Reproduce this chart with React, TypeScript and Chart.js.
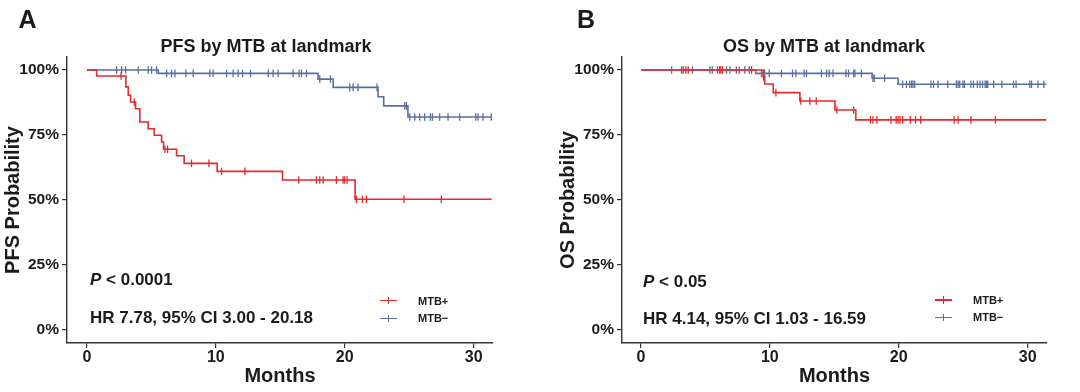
import React, { useEffect, useRef } from "react";
import { Chart, registerables } from "chart.js";

Chart.register(...registerables);

const FONT = "'Liberation Sans', Arial, Helvetica, sans-serif";
const RED = "#E8292B";
const BLUE = "#5A6F9C";
const INK = "#1b1b1b";
const AXIS = "#333333";

const yTickValues = [0, 0.25, 0.5, 0.75, 1];
const xTickValues = [0, 10, 20, 30];
const groupLabels = ["MTB+", "MTB\u2212"];

// ---------- Panel A: PFS ----------
const pfsPosTimes = [0, 0.75, 3.02, 3.2, 3.38, 3.77, 4.1, 4.75, 5.22, 5.79, 5.94, 6.95, 7.54, 10.1, 15.17, 20.8];
const pfsPosSurv = [1, 0.977, 0.935, 0.903, 0.877, 0.851, 0.8, 0.774, 0.749, 0.723, 0.695, 0.67, 0.641, 0.61, 0.577, 0.503];
const pfsPosCensor = [2.64, 3.67, 6.05, 6.25, 8.11, 9.46, 10.44, 12.25, 16.43, 17.8, 18.06, 18.32, 19.35, 19.87, 20.0, 20.18, 20.9, 21.37, 21.68, 24.6, 27.49];
const pfsPosEnd = 31.4;

const pfsNegTimes = [0, 5.53, 17.93, 19.1, 22.58, 23.02, 24.9];
const pfsNegSurv = [1, 0.987, 0.965, 0.933, 0.897, 0.862, 0.819];
const pfsNegCensor = [2.3, 2.69, 3.0, 3.98, 4.75, 5.01, 5.4, 6.18, 6.56, 6.82, 7.67, 8.24, 9.53, 9.79, 10.83, 11.34, 11.73, 12.07, 12.69, 14.06, 14.44, 14.83, 15.99, 16.46, 16.64, 17.03, 18.06, 18.89, 20.39, 20.65, 21.03, 22.5, 24.65, 24.78, 25.04, 25.43, 25.81, 26.2, 26.64, 26.8, 27.36, 28.01, 28.91, 30.16, 30.34, 30.72, 31.37];
const pfsNegEnd = 31.4;

// ---------- Panel B: OS ----------
const osPosTimes = [0, 9.48, 9.6, 10.26, 12.33, 15.05, 16.67];
const osPosSurv = [1, 0.973, 0.946, 0.913, 0.881, 0.846, 0.808];
const osPosCensor = [3.28, 3.49, 3.67, 5.94, 6.1, 6.2, 6.33, 7.62, 8.58, 9.52, 10.47, 12.4, 13.1, 13.6, 15.2, 16.5, 17.8, 18.0, 18.3, 19.4, 19.8, 19.95, 20.1, 20.3, 20.9, 21.3, 21.7, 24.3, 24.6, 25.6, 27.5];
const osPosEnd = 31.45;

const osNegTimes = [0, 8.9, 17.93, 19.95];
const osNegSurv = [1, 0.987, 0.968, 0.945];
const osNegCensor = [2.38, 3.15, 4.0, 5.35, 5.53, 6.64, 6.9, 7.4, 8.06, 8.4, 9.35, 9.6, 9.95, 10.9, 11.76, 12.02, 12.66, 12.84, 14.0, 14.4, 14.6, 14.9, 15.9, 16.1, 16.5, 16.6, 17.1, 18.0, 18.1, 18.9, 20.3, 20.6, 20.85, 21.0, 21.1, 21.24, 22.5, 22.7, 23.05, 23.8, 24.47, 24.6, 24.73, 24.98, 25.1, 25.6, 25.8, 26.1, 26.3, 26.5, 26.7, 26.8, 26.9, 27.36, 28.0, 28.9, 29.1, 30.16, 30.3, 30.8, 31.26];
const osNegEnd = 31.45;

type Group = { times: number[]; surv: number[]; censor: number[]; end: number; color: string; label: string };

function survAt(g: Group, t: number) {
  let s = g.surv[0];
  for (let i = 0; i < g.times.length; i++) if (g.times[i] <= t) s = g.surv[i];
  return s;
}

function groupDatasets(g: Group) {
  const pts = g.times.map((t, i) => ({ x: t, y: g.surv[i] }));
  pts.push({ x: g.end, y: g.surv[g.surv.length - 1] });
  return [
    {
      type: "line" as const,
      label: g.label,
      data: pts,
      stepped: true,
      borderColor: g.color,
      borderWidth: 1.6,
      pointRadius: 0,
      fill: false,
    },
    {
      type: "line" as const,
      label: g.label + " censor",
      data: g.censor.map((t) => ({ x: t, y: survAt(g, t) })),
      showLine: false,
      pointStyle: "line" as const,
      rotation: 90,
      pointRadius: 3.8,
      pointBorderWidth: 1.3,
      borderColor: g.color,
      backgroundColor: g.color,
      pointBorderColor: g.color,
    },
  ];
}

type PanelSpec = {
  left: number;
  groups: Group[];
  yTitle: string;
  xMin: number;
  xMax: number;
  padLeft: number;
  padRight: number;
};

const panels: PanelSpec[] = [
  {
    left: 0,
    yTitle: "PFS Probability",
    xMin: -1.55,
    xMax: 31.5,
    padLeft: 0,
    padRight: 47,
    groups: [
      { times: pfsPosTimes, surv: pfsPosSurv, censor: pfsPosCensor, end: pfsPosEnd, color: RED, label: groupLabels[0] },
      { times: pfsNegTimes, surv: pfsNegSurv, censor: pfsNegCensor, end: pfsNegEnd, color: BLUE, label: groupLabels[1] },
    ],
  },
  {
    left: 540,
    yTitle: "OS Probability",
    xMin: -1.47,
    xMax: 31.5,
    padLeft: 15,
    padRight: 33,
    groups: [
      { times: osPosTimes, surv: osPosSurv, censor: osPosCensor, end: osPosEnd, color: RED, label: groupLabels[0] },
      { times: osNegTimes, surv: osNegSurv, censor: osNegCensor, end: osNegEnd, color: BLUE, label: groupLabels[1] },
    ],
  },
];

function KMPanel({ spec }: { spec: PanelSpec }) {
  const ref = useRef<HTMLCanvasElement | null>(null);
  useEffect(() => {
    if (!ref.current) return;
    const datasets: any[] = [];
    spec.groups.forEach((g) => datasets.push(...groupDatasets(g)));
    const chart = new Chart(ref.current, {
      type: "line",
      data: { datasets },
      options: {
        animation: false,
        responsive: false,
        devicePixelRatio: 1,
        layout: { padding: { left: spec.padLeft, right: spec.padRight, top: 57, bottom: 0 } },
        plugins: { legend: { display: false }, tooltip: { enabled: false }, title: { display: false } },
        scales: {
          x: {
            type: "linear",
            min: spec.xMin,
            max: spec.xMax,
            afterBuildTicks: (s: any) => {
              s.ticks = xTickValues.map((v) => ({ value: v }));
            },
            afterFit: (s: any) => {
              s.height = 49;
            },
            ticks: {
              color: INK,
              font: { family: FONT, size: 16, weight: "bold" },
              padding: 0,
              maxRotation: 0,
            },
            grid: { drawOnChartArea: false, drawTicks: true, tickLength: 5, color: AXIS, lineWidth: 1.2 },
            border: { display: true, color: AXIS, width: 1.4 },
            title: {
              display: true,
              text: "Months",
              color: INK,
              font: { family: FONT, size: 20, weight: "bold" },
              padding: { top: 0, bottom: 4 },
            },
          },
          y: {
            type: "linear",
            min: -0.05,
            max: 1.05,
            afterBuildTicks: (s: any) => {
              s.ticks = yTickValues.map((v) => ({ value: v }));
            },
            afterFit: (s: any) => {
              s.width = 67;
            },
            ticks: {
              color: INK,
              font: { family: FONT, size: 15.5, weight: "bold" },
              padding: 3,
              callback: (v: any) => Math.round(Number(v) * 100) + "%",
            },
            grid: { drawOnChartArea: false, drawTicks: true, tickLength: 5, color: AXIS, lineWidth: 1.2 },
            border: { display: true, color: AXIS, width: 1.4 },
            title: {
              display: true,
              text: spec.yTitle,
              color: INK,
              font: { family: FONT, size: 20, weight: "bold" },
              padding: { top: 1, bottom: 0 },
            },
          },
        },
      } as any,
    });
    return () => chart.destroy();
  }, [spec]);
  return (
    <canvas
      ref={ref}
      width={540}
      height={392}
      style={{ position: "absolute", left: spec.left, top: 0, width: 540, height: 392 }}
    />
  );
}

const textBase: React.CSSProperties = {
  position: "absolute",
  fontFamily: FONT,
  fontWeight: "bold",
  color: INK,
  lineHeight: 1,
  whiteSpace: "nowrap",
};

function Label({ x, y, size, children, center }: { x: number; y: number; size: number; children: React.ReactNode; center?: boolean }) {
  return (
    <div
      style={{
        ...textBase,
        left: x,
        top: y,
        fontSize: size,
        transform: center ? "translate(-50%,-50%)" : "translate(0,-50%)",
      }}
    >
      {children}
    </div>
  );
}

function LegendKey({ x, y, color, text }: { x: number; y: number; color: string; text: string }) {
  return (
    <>
      <div style={{ position: "absolute", left: x, top: y - 0.8, width: 17, height: 1.6, background: color }} />
      <div style={{ position: "absolute", left: x + 7.7, top: y - 3.8, width: 1.6, height: 7.6, background: color }} />
      <div style={{ ...textBase, left: x + 38, top: y, fontSize: 11, transform: "translate(0,-50%)" }}>{text}</div>
    </>
  );
}

export default function App() {
  return (
    <div style={{ position: "absolute", left: 0, top: 0, width: 1080, height: 392, background: "#ffffff", overflow: "hidden" }}>
      {panels.map((p, i) => (
        <KMPanel key={i} spec={p} />
      ))}
      <Label x={27.5} y={19} size={25} center>A</Label>
      <Label x={586} y={19} size={25} center>B</Label>
      <Label x={266} y={46} size={18} center>PFS by MTB at landmark</Label>
      <Label x={824} y={46} size={18} center>OS by MTB at landmark</Label>

      <Label x={90} y={278.5} size={17}>
        <i>P</i> &lt; 0.0001
      </Label>
      <Label x={90} y={317} size={17}>HR 7.78, 95% CI 3.00 - 20.18</Label>
      <LegendKey x={380} y={300.7} color={RED} text={groupLabels[0]} />
      <LegendKey x={380} y={318.3} color={BLUE} text={groupLabels[1]} />

      <Label x={643} y={280.7} size={17}>
        <i>P</i> &lt; 0.05
      </Label>
      <Label x={643} y={318.3} size={17}>HR 4.14, 95% CI 1.03 - 16.59</Label>
      <LegendKey x={935} y={300} color={RED} text={groupLabels[0]} />
      <LegendKey x={935} y={317.3} color={BLUE} text={groupLabels[1]} />
    </div>
  );
}
